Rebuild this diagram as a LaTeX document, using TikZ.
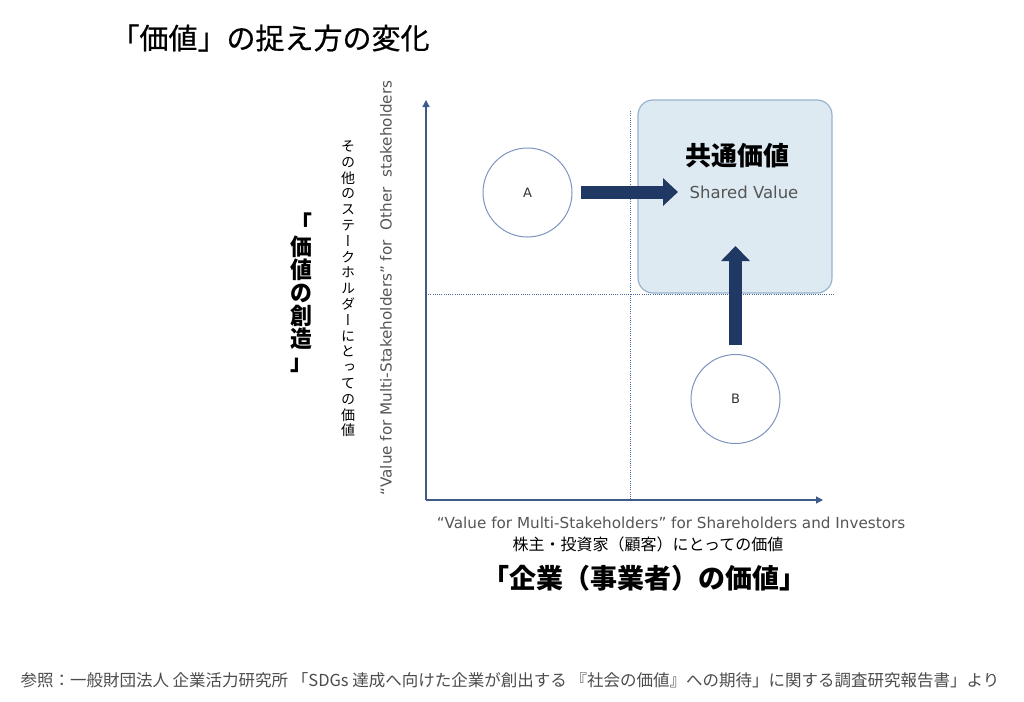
\documentclass[tikz,border=0pt]{standalone}
\usepackage{fontspec}
\setmainfont{DejaVu Sans}
\newfontfamily\jp{Noto Sans CJK JP}
\newfontfamily\jpm[FakeBold=0.6]{Noto Sans CJK JP}
\newfontfamily\jpv[RawFeature=+vert]{Noto Sans CJK JP}
\newfontfamily\jpb[FakeStretch=0.95]{Noto Sans CJK JP}
\newfontfamily\en{DejaVu Sans}
\usetikzlibrary{arrows.meta}
\definecolor{axiscol}{HTML}{3E5A8A}
\definecolor{navy}{HTML}{1F3864}
\definecolor{circcol}{HTML}{7E94BF}
\definecolor{boxfill}{HTML}{DDEAF2}
\definecolor{boxdraw}{HTML}{98B2CE}
\definecolor{dotcol}{HTML}{4A6A9C}
\definecolor{graytxt}{HTML}{555555}
\tikzset{
  axisline/.style={draw=axiscol,line width=1.3pt,-{Triangle[width=7pt,length=7pt]}},
  dotline/.style={draw=dotcol,line width=0.9pt,dash pattern=on 1pt off 1.2pt},
  circ/.style={circle,draw=circcol,line width=1pt,minimum size=89pt,inner sep=0pt,fill=white,font=\en\fontsize{13}{13}\selectfont,text=black!80},
  fat/.style={draw=navy,line width=13pt},
  vtext/.style={align=center,inner sep=0pt},
}
\begin{document}
\begin{tikzpicture}[x=1pt,y=-1pt]
\useasboundingbox (0,0) rectangle (1024,701);
% title
\node[font=\jpm\fontsize{29}{29}\selectfont,anchor=west] (title) at (107,38) {「価値」の捉え方の変化};
% shared value box
\node[draw=boxdraw,fill=boxfill,line width=1.2pt,rounded corners=15pt,minimum width=194pt,minimum height=193pt,inner sep=0pt] (box) at (735,196.5) {};
% dotted quadrant lines
\coordinate (vtop) at (630,111);
\coordinate (vbot) at (630,500);
\coordinate (hl) at (426,294);
\coordinate (hr) at (834,294);
\draw[dotline] (vtop) -- (vbot);
\draw[dotline] (hl) -- (hr);
% axes
\coordinate (O) at (426,500);
\coordinate (Ytop) at (426,100);
\coordinate (Xend) at (823,500);
\draw[axisline] (O) -- (Ytop);
\draw[axisline] (O) -- (Xend);
% circles
\node[circ] (A) at (527.5,192.5) {A};
\node[circ] (B) at (735.5,399) {B};
% box texts
\node[font=\jp\bfseries\fontsize{26}{26}\selectfont] (sv) at (737,156) {共通価値};
\node[font=\en\fontsize{16.5}{16.5}\selectfont,text=graytxt] (sve) at (744,192) {Shared Value};
% fat arrows
\coordinate (a1) at (581,192);
\coordinate (a2) at (678,192);
\draw[fat,-{Triangle[width=27pt,length=15pt]}] (a1) -- (a2);
\coordinate (b1) at (735.5,345);
\coordinate (b2) at (735.5,246);
\draw[fat,-{Triangle[width=28pt,length=15pt]}] (b1) -- (b2);
% y labels
\node[vtext,font=\jpb\bfseries\fontsize{23}{23}\selectfont] (ylab) at (301,293) {「\\価\\値\\の\\創\\造\\」};
\node[vtext,font=\jpv\fontsize{14}{15.8}\selectfont] (yjp) at (348,289) {そ\\の\\他\\の\\ス\\テ\\ー\\ク\\ホ\\ル\\ダ\\ー\\に\\と\\っ\\て\\の\\価\\値};
\node[rotate=90,font=\en\fontsize{15.2}{15.2}\selectfont,text=graytxt] (yen) at (386,288) {“Value for Multi-Stakeholders” for\ \ Other\ \ stakeholders};
% x labels
\node[font=\en\fontsize{15.2}{15.2}\selectfont,text=graytxt] (xen) at (671,523) {“Value for Multi-Stakeholders” for Shareholders and Investors};
\node[font=\jp\fontsize{16}{16}\selectfont] (xjp) at (648,544) {株主・投資家（顧客）にとっての価値};
\node[font=\jp\bfseries\fontsize{27}{27}\selectfont] (xlab) at (644,578) {「企業（事業者）の価値」};
% footer
\node[font=\jp\fontsize{16.5}{16.5}\selectfont,text=black!70,anchor=west] (foot) at (17,680) {参照：一般財団法人 企業活力研究所 「SDGs 達成へ向けた企業が創出する 『社会の価値』への期待」に関する調査研究報告書」より};
\end{tikzpicture}
\end{document}
